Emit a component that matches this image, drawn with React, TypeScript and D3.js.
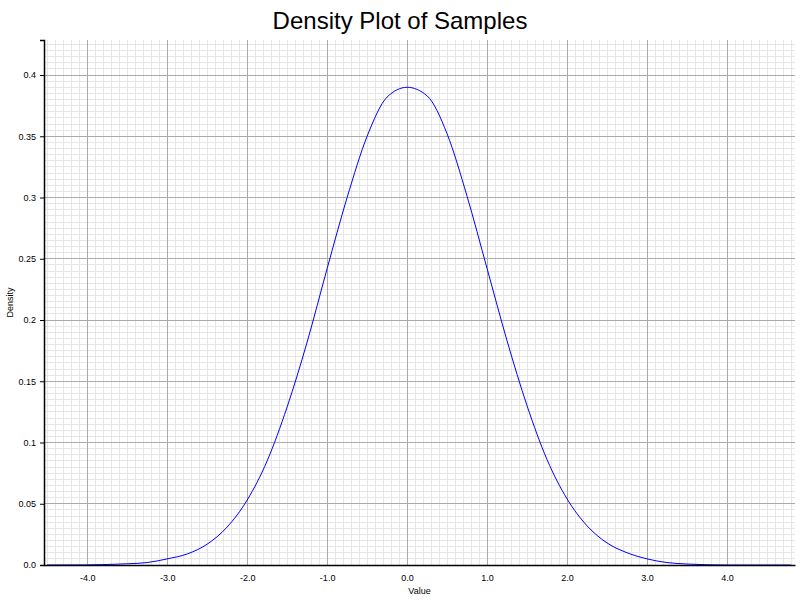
import { useEffect, useRef } from 'react';
import * as d3 from 'd3';

const xValues = [-4.5, -4.0, -3.75, -3.5, -3.25, -3.0, -2.75, -2.5, -2.25, -2.0, -1.75, -1.5, -1.25, -1.0, -0.75, -0.5, -0.25, 0, 0.25, 0.5, 0.75, 1.0, 1.25, 1.5, 1.75, 2.0, 2.25, 2.5, 2.75, 3.0, 3.25, 3.5, 3.75, 4.0, 4.8];
const densityValues = [0, 0.0001, 0.0004, 0.001, 0.002, 0.005, 0.009, 0.017, 0.031, 0.053, 0.085, 0.129, 0.182, 0.242, 0.300, 0.350, 0.382, 0.390, 0.383, 0.352, 0.301, 0.242, 0.183, 0.130, 0.086, 0.054, 0.032, 0.018, 0.010, 0.005, 0.002, 0.0008, 0.0002, 0, 0];
const xTicks = [-4, -3, -2, -1, 0, 1, 2, 3, 4];
const yTicks = [0, 0.05, 0.1, 0.15, 0.2, 0.25, 0.3, 0.35, 0.4];

export default function App() {
  const svgRef = useRef<SVGSVGElement>(null);

  useEffect(() => {
    if (!svgRef.current) return;
    const svg = d3.select(svgRef.current);
    svg.selectAll('*').remove();

    const left = 44, right = 795, top = 40, bottom = 565;
    const x = d3.scaleLinear().domain([-4.54, 4.85]).range([left, right]);
    const y = d3.scaleLinear().domain([0, 0.4286]).range([bottom, top]);
    const font = 'Liberation Sans, Arial, sans-serif';

    // minor grid
    const g = svg.append('g');
    for (const v of d3.range(-45, 49).map(i => i / 10)) {
      g.append('line').attr('x1', x(v)).attr('x2', x(v)).attr('y1', top).attr('y2', bottom)
        .attr('stroke', '#e6e6e6').attr('stroke-width', 1).attr('shape-rendering', 'crispEdges');
    }
    for (const v of d3.range(1, 86).map(i => i * 0.005)) {
      g.append('line').attr('x1', left).attr('x2', right).attr('y1', y(v)).attr('y2', y(v))
        .attr('stroke', '#e6e6e6').attr('stroke-width', 1).attr('shape-rendering', 'crispEdges');
    }
    // major grid
    for (const v of xTicks) {
      g.append('line').attr('x1', x(v)).attr('x2', x(v)).attr('y1', top).attr('y2', bottom)
        .attr('stroke', '#aaa').attr('shape-rendering', 'crispEdges');
    }
    for (const v of yTicks.slice(1)) {
      g.append('line').attr('x1', left).attr('x2', right).attr('y1', y(v)).attr('y2', y(v))
        .attr('stroke', '#aaa').attr('shape-rendering', 'crispEdges');
    }

    // curve
    const line = d3.line<number>().x((_, i) => x(xValues[i])).y(d => y(d)).curve(d3.curveMonotoneX);
    svg.append('path').datum(densityValues).attr('d', line).attr('fill', 'none')
      .attr('stroke', '#0000ff').attr('stroke-width', 1);

    // axes
    const xAxis = svg.append('g').attr('transform', `translate(0,${bottom})`)
      .call(d3.axisBottom(x).tickValues(xTicks).tickFormat(d => (+d).toFixed(1)).tickSize(0).tickPadding(10));
    xAxis.select('.domain').attr('stroke', '#000').attr('stroke-width', 1.5);
    xAxis.selectAll('text').attr('font-family', font).attr('font-size', 9);

    const yAxis = svg.append('g').attr('transform', `translate(${left},0)`)
      .call(d3.axisLeft(y).tickValues(yTicks).tickFormat(d => d === 0 ? '0.0' : String(+d)).tickSize(4).tickPadding(4));
    yAxis.select('.domain').attr('stroke', '#000').attr('stroke-width', 1.5);
    yAxis.selectAll('text').attr('font-family', font).attr('font-size', 9);

    svg.append('text').attr('x', 400).attr('y', 29).attr('text-anchor', 'middle')
      .attr('font-family', font).attr('font-size', 24).text('Density Plot of Samples');
    svg.append('text').attr('x', (left + right) / 2).attr('y', 594).attr('text-anchor', 'middle')
      .attr('font-family', font).attr('font-size', 9).text('Value');
    svg.append('text').attr('transform', `translate(13,${(top + bottom) / 2}) rotate(-90)`)
      .attr('text-anchor', 'middle').attr('font-family', font).attr('font-size', 9).text('Density');
  }, []);

  return (
    <div style={{ position: 'fixed', left: 0, top: 0, width: 800, height: 600, background: '#fff' }}>
      <svg ref={svgRef} width={800} height={600}></svg>
    </div>
  );
}
